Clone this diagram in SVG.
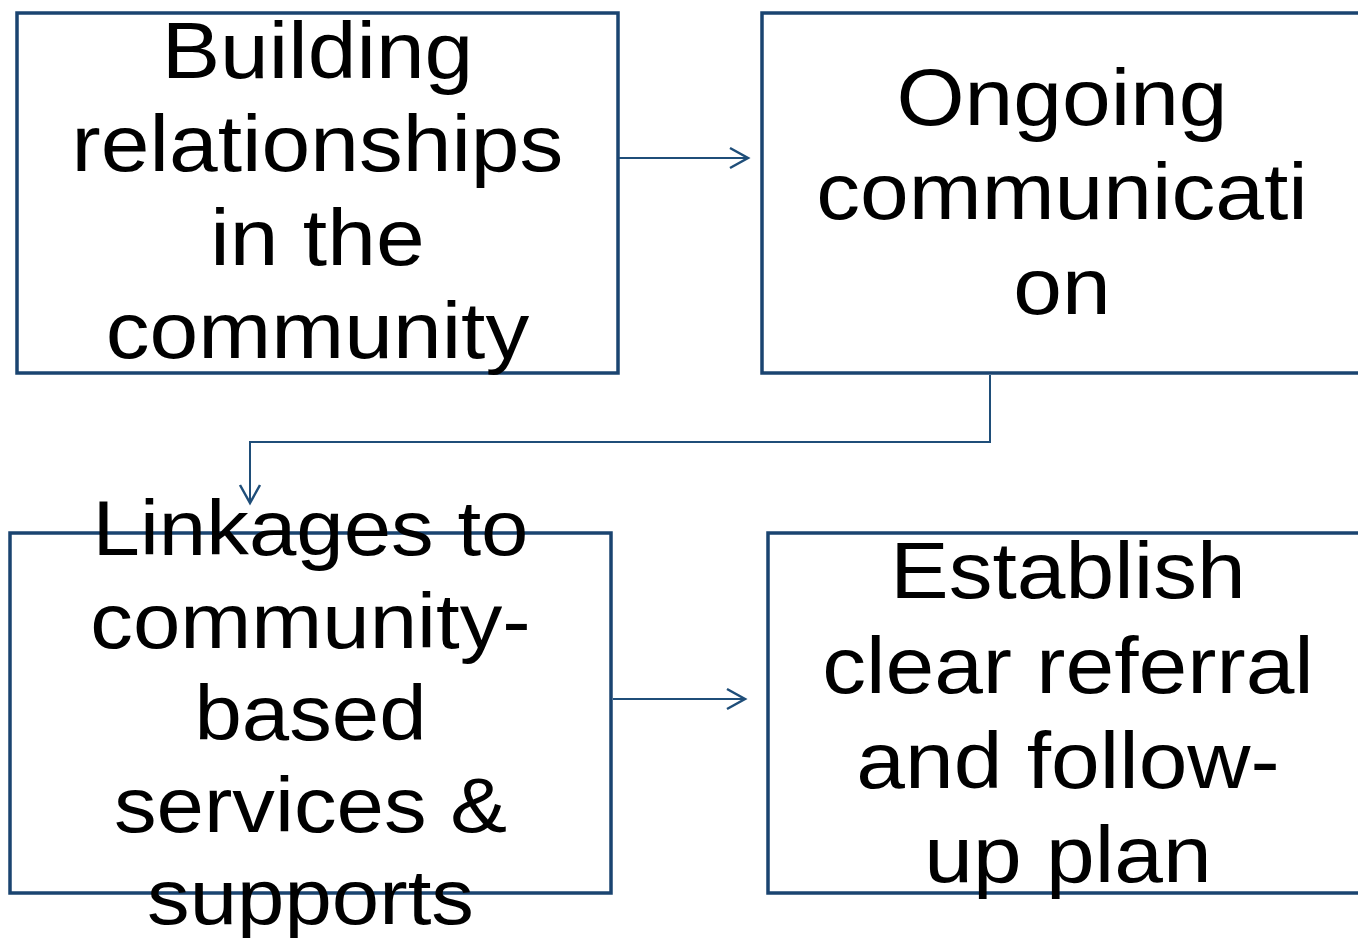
<svg xmlns="http://www.w3.org/2000/svg" width="1358" height="938" viewBox="0 0 1358 938">
  <style>
    .box { fill: #ffffff; stroke: #1a4470; stroke-width: 3.5; }
    .lbl { font-family: "Liberation Sans", Arial, sans-serif; font-size: 80px; fill: #000000; text-anchor: middle; }
    .lbl.sm { font-size: 78px; }
    .edge { fill: none; stroke: #1f4e79; stroke-width: 2; }
  </style>
  <defs>
    <marker id="chev" markerUnits="userSpaceOnUse" markerWidth="24" markerHeight="24" refX="20" refY="12" orient="auto" overflow="visible">
      <path d="M2,2 L20,12 L2,22" fill="none" stroke="#1f4e79" stroke-width="2.5"/>
    </marker>
  </defs>
  <rect width="1358" height="938" fill="#ffffff"/>

  <g id="n1">
    <rect class="box" x="17" y="13" width="601" height="360"/>
    <g transform="translate(317.5,0) scale(1.095,1)">
      <text class="lbl" x="0" y="78">Building</text>
      <text class="lbl" x="0" y="171">relationships</text>
      <text class="lbl" x="0" y="265">in the</text>
      <text class="lbl" x="0" y="358">community</text>
    </g>
  </g>

  <g id="n2">
    <rect class="box" x="762" y="13" width="600" height="360"/>
    <g transform="translate(1062,0) scale(1.095,1)">
      <text class="lbl" x="0" y="125">Ongoing</text>
      <text class="lbl" x="0" y="219">communicati</text>
      <text class="lbl" x="0" y="314">on</text>
    </g>
  </g>

  <g id="n3">
    <rect class="box" x="10" y="533" width="601" height="360"/>
    <g transform="translate(310.5,0) scale(1.093,1)">
      <text class="lbl sm" x="0" y="555">Linkages to</text>
      <text class="lbl sm" x="0" y="648">community-</text>
      <text class="lbl sm" x="0" y="740">based</text>
      <text class="lbl sm" x="0" y="832">services &amp;</text>
      <text class="lbl sm" x="0" y="924">supports</text>
    </g>
  </g>

  <g id="n4">
    <rect class="box" x="768" y="533" width="600" height="360"/>
    <g transform="translate(1068,0) scale(1.095,1)">
      <text class="lbl" x="0" y="598">Establish</text>
      <text class="lbl" x="0" y="693">clear referral</text>
      <text class="lbl" x="0" y="788">and follow-</text>
      <text class="lbl" x="0" y="882">up plan</text>
    </g>
  </g>

  <g id="connectors">
    <path class="edge" d="M619,158 H748" marker-end="url(#chev)"/>
    <path class="edge" d="M990,375 V442 H250 V503" marker-end="url(#chev)"/>
    <path class="edge" d="M613,699 H745" marker-end="url(#chev)"/>
  </g>
</svg>
